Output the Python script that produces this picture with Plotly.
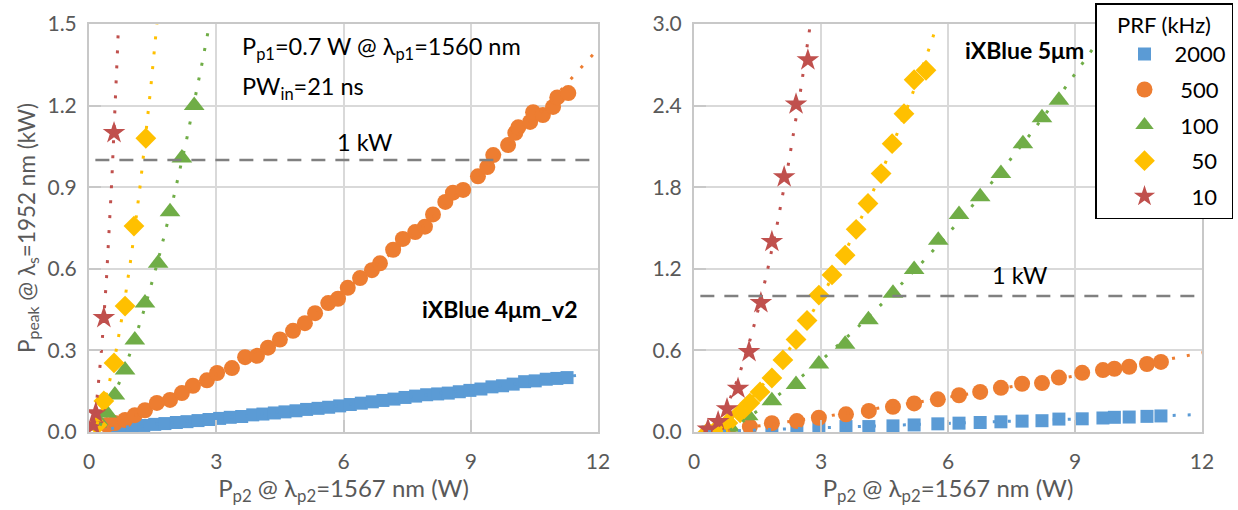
import numpy as np
import plotly.graph_objects as go

# ---------------- data ----------------
prf_labels = ["2000", "500", "100", "50", "10"]

# Left panel: iXBlue 4um_v2
L_2000_x = [0.52, 0.78, 1.02, 1.29, 1.55, 1.79, 2.06, 2.31, 2.57, 2.83, 3.08, 3.33, 3.6, 3.86, 4.1,
            4.37, 4.62, 4.88, 5.13, 5.4, 5.65, 5.91, 6.16, 6.42, 6.68, 6.93, 7.19, 7.45, 7.7, 7.96,
            8.22, 8.47, 8.73, 8.98, 9.24, 9.5, 9.75, 10.0, 10.27, 10.52, 10.78, 11.03, 11.27]
L_2000_y = [0.012, 0.016, 0.02, 0.024, 0.028, 0.031, 0.035, 0.038, 0.042, 0.046, 0.05, 0.054, 0.057,
            0.063, 0.066, 0.07, 0.074, 0.078, 0.083, 0.087, 0.091, 0.096, 0.101, 0.106, 0.111, 0.116,
            0.121, 0.127, 0.132, 0.137, 0.14, 0.143, 0.148, 0.153, 0.158, 0.166, 0.17, 0.176, 0.185,
            0.188, 0.194, 0.197, 0.2]

L_500_x = [0.42, 0.61, 0.85, 1.08, 1.32, 1.6, 1.91, 2.19, 2.45, 2.78, 3.02, 3.37, 3.68, 3.96, 4.22,
           4.5, 4.81, 5.09, 5.33, 5.64, 5.87, 6.1, 6.39, 6.67, 6.86, 7.17, 7.4, 7.69, 7.92, 8.11, 8.4,
           8.58, 8.82, 9.17, 9.39, 9.53, 9.88, 10.05, 10.12, 10.4, 10.47, 10.7, 10.94, 11.04, 11.3]
L_500_y = [0.026, 0.033, 0.044, 0.062, 0.08, 0.107, 0.118, 0.143, 0.17, 0.19, 0.217, 0.235, 0.275,
           0.28, 0.31, 0.34, 0.372, 0.4, 0.437, 0.474, 0.49, 0.53, 0.566, 0.595, 0.62, 0.67, 0.71,
           0.735, 0.755, 0.8, 0.846, 0.88, 0.89, 0.94, 0.974, 1.018, 1.055, 1.1, 1.12, 1.14, 1.176,
           1.165, 1.195, 1.23, 1.246]

L_100_x = [0.26, 0.42, 0.61, 0.85, 1.08, 1.32, 1.63, 1.91, 2.19, 2.48]
L_100_y = [0.033, 0.07, 0.136, 0.228, 0.338, 0.474, 0.62, 0.81, 1.007, 1.2]

L_50_x = [0.19, 0.35, 0.59, 0.85, 1.06, 1.34]
L_50_y = [0.026, 0.114, 0.254, 0.463, 0.757, 1.08]

L_10_x = [0.1, 0.16, 0.35, 0.59]
L_10_y = [0.025, 0.07, 0.42, 1.1]

# Right panel: iXBlue 5um
R_2000_x = [0.33, 0.8, 1.32, 1.84, 2.43, 2.95, 3.59, 4.13, 4.7, 5.2, 5.76, 6.26, 6.76, 7.25, 7.75,
            8.22, 8.62, 9.17, 9.66, 9.93, 10.28, 10.7, 11.03]
R_2000_y = [0.0, 0.005, 0.01, 0.02, 0.03, 0.035, 0.04, 0.04, 0.045, 0.052, 0.06, 0.065, 0.07, 0.075,
            0.08, 0.083, 0.095, 0.097, 0.103, 0.108, 0.11, 0.115, 0.118]

R_500_x = [0.8, 1.32, 1.84, 2.43, 2.95, 3.59, 4.13, 4.7, 5.2, 5.76, 6.26, 6.76, 7.25, 7.75, 8.22,
           8.62, 9.17, 9.66, 9.93, 10.28, 10.7, 11.03]
R_500_y = [0.015, 0.04, 0.065, 0.08, 0.105, 0.13, 0.155, 0.185, 0.21, 0.24, 0.27, 0.295, 0.325,
           0.355, 0.36, 0.4, 0.435, 0.455, 0.465, 0.48, 0.5, 0.515]

R_100_x = [0.85, 1.28, 1.84, 2.41, 2.95, 3.57, 4.12, 4.7, 5.2, 5.77, 6.26, 6.76, 7.25, 7.77, 8.22, 8.62]
R_100_y = [0.035, 0.12, 0.23, 0.35, 0.5, 0.645, 0.825, 1.02, 1.195, 1.41, 1.6, 1.73, 1.9, 2.12, 2.31, 2.44]

R_50_x = [0.33, 0.57, 0.8, 1.09, 1.32, 1.56, 1.84, 2.1, 2.41, 2.67, 2.95, 3.26, 3.57, 3.83, 4.11,
          4.42, 4.68, 4.96, 5.2, 5.48]
R_50_y = [0.0, 0.03, 0.066, 0.14, 0.213, 0.295, 0.397, 0.53, 0.68, 0.82, 1.007, 1.155, 1.3, 1.49,
          1.68, 1.9, 2.12, 2.34, 2.59, 2.66]

R_10_x = [0.33, 0.57, 0.78, 1.04, 1.3, 1.58, 1.84, 2.13, 2.41, 2.69]
R_10_y = [0.02, 0.075, 0.17, 0.32, 0.59, 0.95, 1.4, 1.875, 2.41, 2.735]

# trendline forecast end (W) per series
L_trend_end = [11.75, 12.3, 2.8, 1.6, 0.72]
R_trend_end = [11.9, 12.3, 10.0, 6.3, 2.85]

threshold_kw = 1.0

# ---------------- styles ----------------
colors = ["#5B9BD5", "#ED7D31", "#70AD47", "#FFC000", "#C0504D"]
symbols = ["square", "circle", "triangle-up", "diamond", "star"]
sizes = [13, 16, 18, 16, 17]
FONT = "Lato, Carlito, Calibri, sans-serif"
GRAY = "#595959"
NB = "\u00a0"

left = [(L_2000_x, L_2000_y), (L_500_x, L_500_y), (L_100_x, L_100_y), (L_50_x, L_50_y), (L_10_x, L_10_y)]
right = [(R_2000_x, R_2000_y), (R_500_x, R_500_y), (R_100_x, R_100_y), (R_50_x, R_50_y), (R_10_x, R_10_y)]

fig = go.Figure()
pad = ["", NB, NB, NB * 3, NB * 3]


def add_panel(series, trend_end, xa, ya, show):
    for i, (x, y) in enumerate(series):
        fig.add_trace(go.Scatter(
            x=x, y=y, mode="markers", xaxis=xa, yaxis=ya,
            name=pad[i] + prf_labels[i], legendgroup=prf_labels[i], showlegend=show,
            marker=dict(symbol=symbols[i], size=sizes[i], color=colors[i], line=dict(width=0)),
        ))
    for i, (x, y) in enumerate(series):
        c = np.polyfit(x, y, 2)
        xs = np.linspace(min(x), trend_end[i], 300)
        fig.add_trace(go.Scatter(
            x=xs, y=np.polyval(c, xs), mode="lines", xaxis=xa, yaxis=ya, showlegend=False,
            hoverinfo="skip",
            line=dict(color=colors[i], width=3, dash="3px,12px"),
        ))
    fig.add_trace(go.Scatter(
        x=[0.15, 11.9], y=[threshold_kw, threshold_kw], mode="lines", xaxis=xa, yaxis=ya,
        showlegend=False, hoverinfo="skip",
        line=dict(color="#808080", width=2.5, dash="14px,10px"),
    ))


add_panel(left, L_trend_end, "x", "y", True)
add_panel(right, R_trend_end, "x2", "y2", False)

axis_common = dict(
    showgrid=True, gridcolor="#D9D9D9", gridwidth=1.5,
    showline=True, linecolor="#C8C8C8", linewidth=2, mirror=True,
    ticks="inside", ticklen=12, tickcolor="#C8C8C8", tickwidth=2,
    tickfont=dict(family=FONT, size=21, color=GRAY),
    zeroline=False, automargin=False,
)
xdom1 = [89 / 1238, 598 / 1238]
xdom2 = [694 / 1238, 1202 / 1238]
ydom = [1 - 432 / 510, 1 - 24 / 510]
xtitle = "P<sub>p2</sub> @ λ<sub>p2</sub>=1567 nm (W)"
XTFONT = dict(family=FONT, size=24, color=GRAY)
YTFONT = dict(family=FONT, size=22.5, color=GRAY)

fig.update_layout(
    width=1238, height=510,
    margin=dict(l=0, r=0, t=0, b=0),
    paper_bgcolor="white", plot_bgcolor="white",
    font=dict(family=FONT, color=GRAY),
    xaxis=dict(domain=xdom1, range=[0, 12], tickvals=[0, 3, 6, 9, 12], anchor="y",
               title=dict(text=xtitle, font=XTFONT, standoff=8),
               ticklabelstandoff=10, **axis_common),
    yaxis=dict(domain=ydom, range=[0, 1.5], tickvals=[0, 0.3, 0.6, 0.9, 1.2, 1.5], tickformat=".1f",
               anchor="x",
               title=dict(text="P<sub>peak</sub> @ λ<sub>s</sub>=1952 nm (kW)", font=YTFONT, standoff=6),
               ticklabelstandoff=6, **axis_common),
    xaxis2=dict(domain=xdom2, range=[0, 12], tickvals=[0, 3, 6, 9, 12], anchor="y2",
                title=dict(text=xtitle, font=XTFONT, standoff=8),
                ticklabelstandoff=10, **axis_common),
    yaxis2=dict(domain=ydom, range=[0, 3.0], tickvals=[0, 0.6, 1.2, 1.8, 2.4, 3.0], tickformat=".1f",
                anchor="x2", ticklabelstandoff=6, **axis_common),
    legend=dict(
        x=1233 / 1238, y=1 - 3 / 510, xanchor="right", yanchor="top",
        bgcolor="white", bordercolor="black", borderwidth=1.5,
        font=dict(family=FONT, size=22, color="black"),
        title=dict(text="PRF (kHz)", font=dict(family=FONT, size=22, color="black"), side="top center"),
        tracegroupgap=4, itemsizing="trace", indentation=18, itemwidth=50,
    ),
    showlegend=True,
)

ann_font = dict(family=FONT, size=23.5, color="black")
fig.add_annotation(xref="x", yref="y", x=3.56, y=1.41, xanchor="left", yanchor="middle", showarrow=False,
                   text="P<sub>p1</sub>=0.7 W @ λ<sub>p1</sub>=1560 nm", font=ann_font)
fig.add_annotation(xref="x", yref="y", x=3.56, y=1.265, xanchor="left", yanchor="middle", showarrow=False,
                   text="PW<sub>in</sub>=21 ns", font=ann_font)
fig.add_annotation(xref="x", yref="y", x=6.5, y=1.066, xanchor="center", yanchor="middle", showarrow=False,
                   text="1 kW", font=ann_font)
fig.add_annotation(xref="x2", yref="y2", x=7.7, y=1.154, xanchor="center", yanchor="middle", showarrow=False,
                   text="1 kW", font=ann_font)
fig.add_annotation(xref="x", yref="y", x=11.58, y=0.452, xanchor="right", yanchor="middle", showarrow=False,
                   text="<b>iXBlue 4μm_v2</b>", font=dict(family=FONT, size=23, color="black"))
fig.add_annotation(xref="x2", yref="y2", x=9.26, y=2.81, xanchor="right", yanchor="middle", showarrow=False,
                   text="<b>iXBlue 5μm</b>", font=dict(family=FONT, size=23, color="black"))

fig.write_html("out.html", config={"displayModeBar": False},
               post_script="document.body.style.margin='0';document.body.style.padding='0';")
